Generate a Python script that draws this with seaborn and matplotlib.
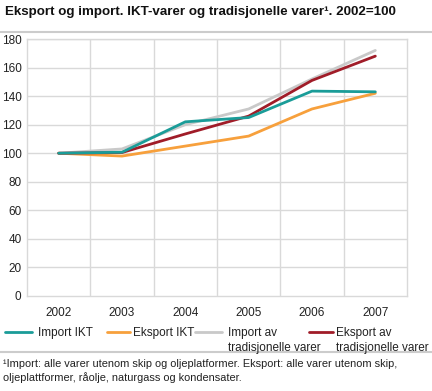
import matplotlib
matplotlib.use("Agg")
import matplotlib.pyplot as plt
import seaborn as sns
import pandas as pd
from matplotlib.lines import Line2D

years = ["2002", "2003", "2004", "2005", "2006", "2007"]
import_ikt = [100, 100.7, 122, 125, 143.5, 143]
eksport_ikt = [100, 98, 105, 112, 131, 142]
import_trad = [100, 103, 120, 131, 152, 172]
eksport_trad = [100, 100.5, 113.5, 126, 151, 168]

series_names = ["Import IKT", "Eksport IKT", "Import av\ntradisjonelle varer", "Eksport av\ntradisjonelle varer"]
colors = ["#1a9c98", "#f7a03c", "#c9c9c9", "#a01c28"]

rows = []
for name, vals in zip(series_names, [import_ikt, eksport_ikt, import_trad, eksport_trad]):
    for i, v in enumerate(vals):
        rows.append({"pos": i, "year": years[i], "value": v, "series": name})
df = pd.DataFrame(rows)

sns.set_style("white")
plt.rcParams["font.family"] = ["Liberation Sans", "DejaVu Sans"]

W, H = 432, 391
fig = plt.figure(figsize=(W / 100, H / 100), dpi=100)
ax = fig.add_axes([27/W, 1 - 296/H, 380/W, 257/H])

draw_order = [2, 1, 3, 0]
for idx in draw_order:
    name = series_names[idx]
    sns.lineplot(data=df[df.series == name], x="pos", y="value", color=colors[idx],
                 linewidth=2, ax=ax, legend=False, zorder=3)

ax.set_xlim(-0.5, 5.5)
ax.set_ylim(0, 180)
ax.set_yticks(range(0, 181, 20))
ax.set_xticks(range(6))
ax.set_xticklabels(years)
ax.set_xlabel("")
ax.set_ylabel("")
ax.grid(False)
for y in range(20, 181, 20):
    ax.axhline(y, color="#d9d9d9", linewidth=1, zorder=1)
for x in [0.5, 1.5, 2.5, 3.5, 4.5]:
    ax.axvline(x, color="#d9d9d9", linewidth=1, zorder=1)
for s in ax.spines.values():
    s.set_color("#d9d9d9")
    s.set_linewidth(1)
ax.tick_params(axis="both", which="both", length=0, labelsize=8.5, colors="#222222", pad=4)
ax.tick_params(axis="x", pad=8)

fig.text(5/W, 1 - 12/H, "Eksport og import. IKT-varer og tradisjonelle varer\u00b9. 2002=100",
         fontsize=9.6, fontweight="bold", va="center", ha="left", color="#111111")
fig.add_artist(Line2D([0, 1], [1 - 32/H, 1 - 32/H], color="#cccccc", linewidth=1.5))

# legend drawn item by item (handle aligned with first text line)
handle_x = [(5, 32), (107, 130), (195, 222), (309, 333)]
text_x = [38, 133, 228, 336]
ly = 332
for (x0, x1), tx, name, c in zip(handle_x, text_x, series_names, colors):
    fig.add_artist(Line2D([x0/W, x1/W], [1 - ly/H, 1 - ly/H], color=c, linewidth=2))
    fig.text(tx/W, 1 - (ly - 5)/H, name, fontsize=8.5, va="top", ha="left",
             color="#222222", linespacing=1.3)

fig.add_artist(Line2D([0, 1], [1 - 352/H, 1 - 352/H], color="#cccccc", linewidth=1.5))
fig.text(3/W, 1 - 371/H,
         "\u00b9Import: alle varer utenom skip og oljeplatformer. Eksport: alle varer utenom skip,\noljeplattformer, r\u00e5olje, naturgass og kondensater.",
         fontsize=7.9, va="center", ha="left", color="#222222", linespacing=1.4)

fig.savefig("out.png", dpi=100)
